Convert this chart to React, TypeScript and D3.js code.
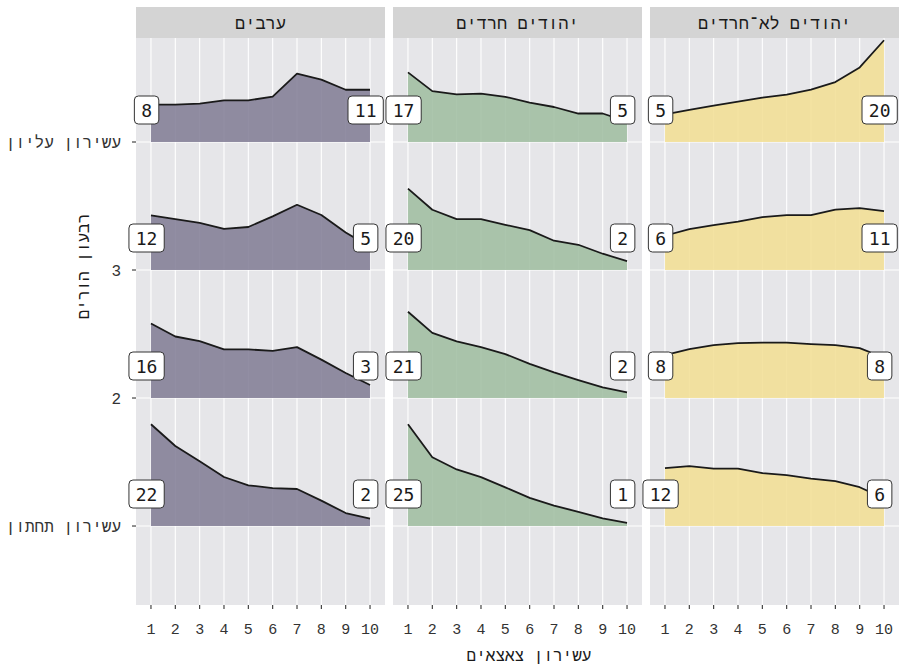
import React from 'react';
import * as d3 from 'd3';

// ---- data ----
const groups = ['ערבים', 'יהודים חרדים', 'יהודים לא־חרדים'];
const deciles = [1, 2, 3, 4, 5, 6, 7, 8, 9, 10];
const quartiles = [1, 2, 3, 4];
const yTickLabels = ['עשירון תחתון', '2', '3', 'עשירון עליון'];
const xTitle = 'עשירון צאצאים';
const yTitle = 'רבעון הורים';

// rows: parents' quartile 1..4, values: % of children in each decile
const arabs = [
  [22.0, 17.3, 14.0, 10.6, 8.8, 8.2, 8.0, 5.5, 2.8, 1.6],
  [16.1, 13.3, 12.3, 10.5, 10.5, 10.2, 11.0, 8.3, 5.4, 2.8],
  [11.8, 11.0, 10.2, 8.9, 9.3, 11.6, 14.1, 11.9, 8.1, 5.0],
  [8.1, 8.1, 8.3, 9.0, 9.0, 9.8, 14.8, 13.5, 11.3, 11.3],
];
const haredi = [
  [25.0, 16.9, 13.9, 12.0, 9.5, 6.9, 5.0, 3.5, 1.9, 0.8],
  [21.2, 16.0, 13.9, 12.5, 10.8, 8.4, 6.3, 4.4, 2.6, 1.4],
  [20.0, 14.8, 12.5, 12.5, 11.1, 9.8, 7.2, 6.2, 4.0, 2.2],
  [17.1, 12.5, 11.7, 11.9, 11.1, 9.7, 8.6, 7.0, 7.0, 5.0],
];
const nonHaredi = [
  [11.5, 11.9, 11.4, 11.4, 10.5, 10.1, 9.4, 8.9, 7.7, 5.5],
  [8.5, 9.7, 10.5, 10.9, 11.0, 11.0, 10.7, 10.5, 9.9, 8.0],
  [6.8, 8.1, 8.9, 9.6, 10.5, 10.9, 10.9, 12.0, 12.3, 11.7],
  [5.5, 6.4, 7.2, 8.0, 8.8, 9.4, 10.4, 11.9, 14.8, 20.2],
];
const firstLabels = [
  [22, 16, 12, 8],
  [25, 21, 20, 17],
  [12, 8, 6, 5],
];
const lastLabels = [
  [2, 3, 5, 11],
  [1, 2, 2, 5],
  [6, 8, 11, 20],
];
const groupValues = [arabs, haredi, nonHaredi];
const groupColors = ['#7f7a93', '#9dbc9f', '#f2de92'];

// ---- layout ----
const W = 899;
const H = 665;
const panelTop = 38;
const panelBottom = 605;
const stripTop = 7;
const panelLefts = [136, 393, 650];
const panelWidth = 249;
const FONT = "'DejaVu Sans Mono', monospace";
const HFONT = "'Liberation Mono', 'DejaVu Sans Mono', monospace";

const yScale = d3.scaleLinear().domain([0.383, 4.8125]).range([panelBottom, panelTop]);
const ridgeMax = 0.795;
const labelNudge = -0.18;

function Panel({ gi }: { gi: number }) {
  const left = panelLefts[gi];
  const x = d3.scaleLinear().domain([0.385, 10.615]).range([left, left + panelWidth]);
  const vals = groupValues[gi];
  const maxV = d3.max(vals.flat()) as number;
  const k = ridgeMax / maxV;
  const clipId = `clip-${gi}`;
  return (
    <g>
      <defs>
        <clipPath id={clipId}>
          <rect x={left} y={panelTop} width={panelWidth} height={panelBottom - panelTop} />
        </clipPath>
      </defs>
      <rect x={left} y={panelTop} width={panelWidth} height={panelBottom - panelTop} fill="#e6e6e9" />
      {deciles.map((d) => (
        <line key={'v' + d} x1={x(d)} x2={x(d)} y1={panelTop} y2={panelBottom} stroke="#fff" strokeWidth={1.1} />
      ))}
      {quartiles.map((q) => (
        <line key={'h' + q} x1={left} x2={left + panelWidth} y1={yScale(q)} y2={yScale(q)} stroke="#fff" strokeWidth={1.1} />
      ))}
      {/* strip */}
      <rect x={left} y={stripTop} width={panelWidth} height={panelTop - stripTop} fill="#d4d4d4" />
      <text x={left + panelWidth / 2} y={28.5} textAnchor="middle" fontSize={17} fill="#1a1a1a" fontFamily={HFONT}>
        {groups[gi]}
      </text>
      <g clipPath={`url(#${clipId})`}>
        {quartiles.slice().reverse().map((q) => {
          const row = vals[q - 1];
          const pts = deciles.map((d, i) => [d, q + row[i] * k] as [number, number]);
          const area = d3.area<[number, number]>().x((p) => x(p[0])).y0(yScale(q)).y1((p) => yScale(p[1]));
          const line = d3.line<[number, number]>().x((p) => x(p[0])).y((p) => yScale(p[1]));
          return (
            <g key={'r' + q}>
              <path d={area(pts) || ''} fill={groupColors[gi]} fillOpacity={0.85} />
              <path d={line(pts) || ''} fill="none" stroke="#1a1a1a" strokeWidth={1.8} strokeLinejoin="round" />
            </g>
          );
        })}
      </g>
      {/* x axis */}
      {deciles.map((d) => (
        <g key={'xt' + d}>
          <line x1={x(d)} x2={x(d)} y1={panelBottom} y2={panelBottom + 4} stroke="#333" strokeWidth={1.1} />
          <text x={x(d)} y={634} textAnchor="middle" fontSize={15} fill="#333" fontFamily={HFONT}>
            {d}
          </text>
        </g>
      ))}
      {/* labels */}
      {quartiles.map((q) => {
        const items = [
          { v: firstLabels[gi][q - 1], xv: deciles[0] + labelNudge },
          { v: lastLabels[gi][q - 1], xv: deciles[deciles.length - 1] + labelNudge },
        ];
        return items.map((it, j) => {
          const txt = String(it.v);
          const w = txt.length * 10.84 + 13.6;
          const h = 28;
          const cx = x(it.xv);
          const cy = yScale(q + 0.25);
          return (
            <g key={'l' + q + '-' + j}>
              <rect x={cx - w / 2} y={cy - h / 2} width={w} height={h} rx={4} fill="#fff" stroke="#333" strokeWidth={1} />
              <text x={cx} y={cy + 6.5} textAnchor="middle" fontSize={18} fill="#1a1a1a" fontFamily={FONT}>
                {txt}
              </text>
            </g>
          );
        });
      })}
    </g>
  );
}

export default function App() {
  return (
    <svg width={W} height={H} style={{ position: 'absolute', left: 0, top: 0, background: '#fff' }}>
      <rect x={0} y={0} width={W} height={H} fill="#fff" />
      {groups.map((_, gi) => (
        <Panel key={gi} gi={gi} />
      ))}
      {/* y axis */}
      {quartiles.map((q, i) => (
        <g key={'yt' + q}>
          <line x1={132} x2={136} y1={yScale(q)} y2={yScale(q)} stroke="#333" strokeWidth={1.1} />
          <text x={121} y={yScale(q) + 5.5} textAnchor="end" fontSize={16} fill="#333" fontFamily={HFONT}>
            {yTickLabels[i]}
          </text>
        </g>
      ))}
      <text transform="translate(89,266.5) rotate(-90)" textAnchor="middle" fontSize={16} fill="#1a1a1a" fontFamily={HFONT}>
        {yTitle}
      </text>
      <text x={529} y={661} textAnchor="middle" fontSize={16} fill="#1a1a1a" fontFamily={HFONT}>
        {xTitle}
      </text>
    </svg>
  );
}
